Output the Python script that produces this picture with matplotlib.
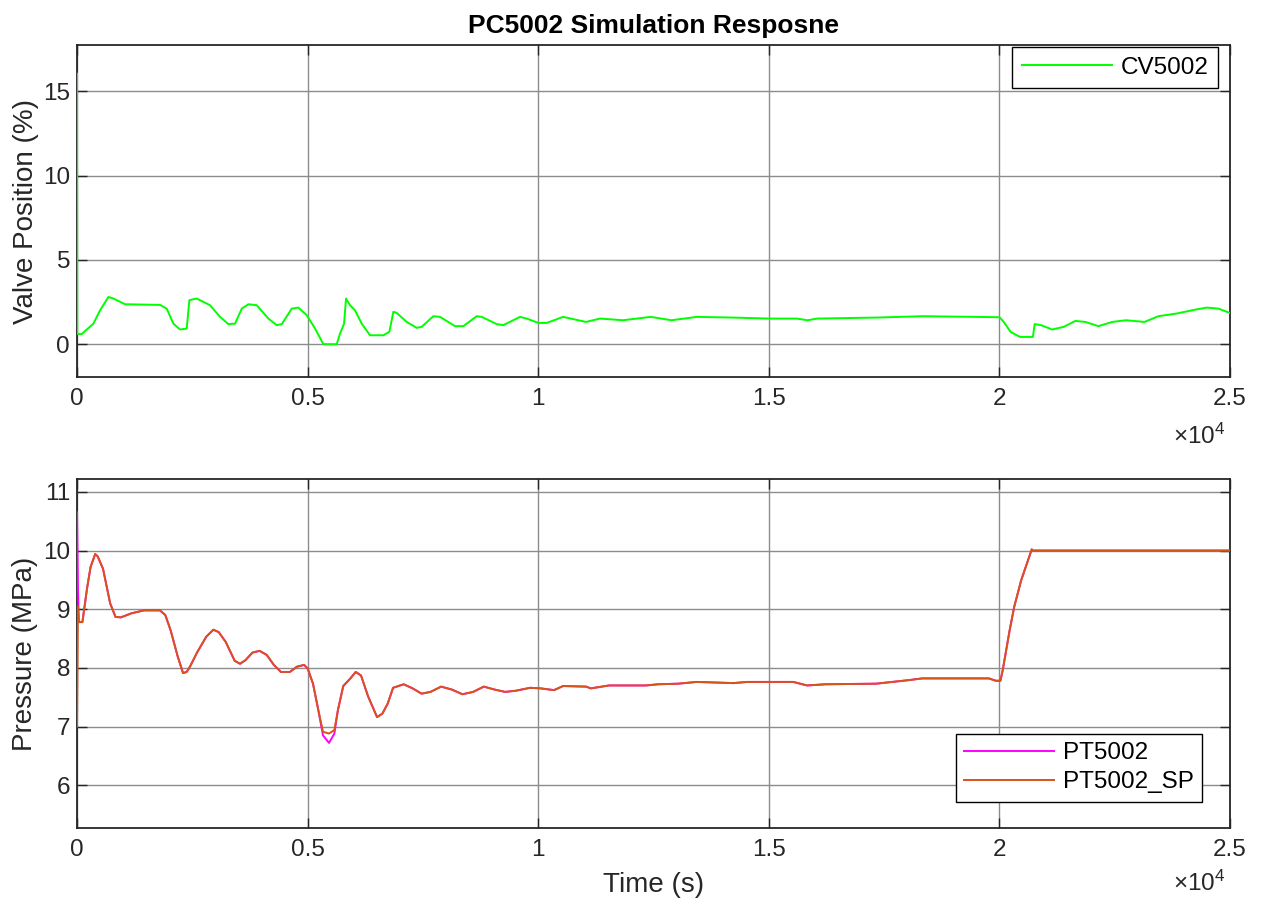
import matplotlib
matplotlib.use("Agg")
import matplotlib.pyplot as plt
from matplotlib.ticker import FuncFormatter

plt.rcParams['font.family'] = ['Liberation Sans', 'DejaVu Sans']
plt.rcParams['mathtext.fontset'] = 'custom'
plt.rcParams['mathtext.rm'] = 'Liberation Sans'

# Valve position CV5002 (time in s, value in %)
cv_time = [0, 5, 100, 354, 499, 680, 788, 1041, 1800, 1944, 2088, 2233, 2378, 2435,
           2595, 2883, 3100, 3281, 3426, 3571, 3715, 3896, 4148, 4330, 4438, 4655,
           4798, 4980, 5160, 5340, 5630, 5702, 5789, 5832, 5919, 6027, 6172, 6352,
           6641, 6771, 6858, 6930, 7147, 7364, 7473, 7725, 7870, 8195, 8375, 8665,
           8774, 9099, 9243, 9604, 9749, 10001, 10183, 10537, 11036, 11340, 11838,
           12440, 12889, 13440, 14200, 15000, 15600, 15840, 16050, 17340, 18340,
           20000, 20092, 20242, 20444, 20724, 20763, 20900, 21143, 21394, 21645,
           21860, 22145, 22445, 22743, 23144, 23445, 23844, 24245, 24494, 24746, 25000]
cv_value = [16.05, 0.6, 0.6, 1.22, 2.01, 2.8, 2.71, 2.37, 2.33, 2.11, 1.22, 0.87, 0.93, 2.61,
            2.71, 2.31, 1.62, 1.19, 1.22, 2.11, 2.37, 2.31, 1.52, 1.13, 1.19, 2.11,
            2.17, 1.72, 0.93, 0.0, 0.0, 0.63, 1.22, 2.71, 2.31, 2.01, 1.22, 0.53,
            0.53, 0.73, 1.92, 1.86, 1.32, 0.97, 1.03, 1.66, 1.62, 1.07, 1.07, 1.66,
            1.62, 1.19, 1.13, 1.62, 1.52, 1.26, 1.26, 1.62, 1.32, 1.52, 1.42,
            1.62, 1.42, 1.62, 1.58, 1.52, 1.52, 1.42, 1.52, 1.58, 1.66,
            1.6, 1.32, 0.73, 0.43, 0.43, 1.19, 1.13, 0.87, 1.03, 1.38,
            1.32, 1.07, 1.32, 1.42, 1.32, 1.66, 1.82, 2.05, 2.17, 2.11, 1.85]

# Pressure PT5002 and set point PT5002_SP (time in s, value in MPa)
p_time = [0, 20, 39, 116, 162, 216, 293, 394, 448, 563, 718, 833, 949, 1180, 1451,
          1798, 1914, 2029, 2184, 2299, 2377, 2454, 2608, 2801, 2955, 3071, 3225,
          3418, 3534, 3650, 3804, 3958, 4113, 4267, 4421, 4614, 4769, 4923, 5000,
          5116, 5231, 5332, 5463, 5579, 5656, 5772, 5926, 6042, 6157, 6312, 6505,
          6620, 6736, 6852, 7083, 7276, 7469, 7662, 7894, 8125, 8356, 8588, 8819,
          9051, 9282, 9514, 9823, 10054, 10340, 10539, 11038, 11138, 11537, 12335,
          12600, 13034, 13433, 14232, 14531, 15529, 15828, 16228, 17325, 18024,
          18323, 19770, 19920, 20020, 20070, 20220, 20319, 20469, 20699, 20719, 25000]
sp_value = [7.0, 9.05, 8.78, 8.78, 9.04, 9.35, 9.72, 9.94, 9.90, 9.69, 9.10, 8.87, 8.86, 8.93, 8.98,
            8.98, 8.90, 8.64, 8.19, 7.91, 7.93, 8.03, 8.27, 8.53, 8.65, 8.61, 8.44,
            8.12, 8.07, 8.13, 8.26, 8.29, 8.22, 8.05, 7.93, 7.93, 8.02, 8.05, 7.99,
            7.73, 7.28, 6.91, 6.88, 6.94, 7.28, 7.69, 7.82, 7.93, 7.87, 7.51, 7.16,
            7.22, 7.39, 7.66, 7.72, 7.65, 7.56, 7.59, 7.68, 7.63, 7.55, 7.59, 7.68,
            7.63, 7.59, 7.61, 7.66, 7.65, 7.62, 7.69, 7.68, 7.65, 7.70, 7.70,
            7.72, 7.73, 7.76, 7.74, 7.76, 7.76, 7.70, 7.72, 7.73, 7.79,
            7.82, 7.82, 7.78, 7.78, 7.96, 8.64, 9.04, 9.49, 10.02, 10.0, 10.0]
pt_value = [10.65, 9.35, 8.78, 8.78, 9.04, 9.35, 9.72, 9.94, 9.90, 9.69, 9.10, 8.87, 8.86, 8.93, 8.98,
            8.98, 8.90, 8.64, 8.19, 7.91, 7.93, 8.03, 8.27, 8.53, 8.65, 8.61, 8.44,
            8.12, 8.07, 8.13, 8.26, 8.29, 8.22, 8.05, 7.93, 7.93, 8.02, 8.05, 7.99,
            7.73, 7.28, 6.85, 6.72, 6.88, 7.28, 7.69, 7.82, 7.93, 7.87, 7.51, 7.16,
            7.22, 7.39, 7.66, 7.72, 7.65, 7.56, 7.59, 7.68, 7.63, 7.55, 7.59, 7.68,
            7.63, 7.59, 7.61, 7.66, 7.65, 7.62, 7.69, 7.68, 7.65, 7.70, 7.70,
            7.72, 7.73, 7.76, 7.74, 7.76, 7.76, 7.70, 7.72, 7.73, 7.79,
            7.82, 7.82, 7.78, 7.78, 7.96, 8.64, 9.04, 9.49, 10.02, 10.0, 10.0]

x_ticks = [0, 5000, 10000, 15000, 20000, 25000]
top_yticks = [0, 5, 10, 15]
bottom_yticks = [6, 7, 8, 9, 10, 11]

text_color = '#262626'
tick_size = 17.5

fig = plt.figure(figsize=(12.61, 8.99), dpi=100)
ax1 = fig.add_axes([0.0611, 0.5806, 0.9144, 0.3693])
ax2 = fig.add_axes([0.0611, 0.0790, 0.9144, 0.3882])


def style_axis(ax, yticks, ylim, offset_y):
    ax.set_xlim(0, 25000)
    ax.set_ylim(*ylim)
    ax.set_xticks(x_ticks)
    ax.set_yticks(yticks)
    ax.xaxis.set_major_formatter(FuncFormatter(lambda v, p: f"{v / 1e4:g}"))
    ax.grid(True, color='#8c8c8c', linewidth=1.0)
    ax.set_axisbelow(True)
    ax.tick_params(direction='in', top=True, right=True, length=7, width=1,
                   color=text_color, labelcolor=text_color, labelsize=tick_size)
    ax.tick_params(axis='x', pad=8)
    ax.tick_params(axis='y', pad=5)
    for s in ax.spines.values():
        s.set_color(text_color)
        s.set_linewidth(1.3)
    # MATLAB style exponent under the right end of the x axis
    ax.text(0.996, offset_y, r'$\times\mathregular{10^{4}}$', transform=ax.transAxes,
            ha='right', va='center', fontsize=tick_size, color=text_color)


# Top panel: valve position
ax1.plot(cv_time, cv_value, color='#00ff00', linewidth=1.4, label='CV5002', zorder=3)
style_axis(ax1, top_yticks, (-1.95, 17.75), -0.178)
ax1.set_ylabel('Valve Position (%)', fontsize=20, color=text_color)
ax1.yaxis.set_label_coords(-0.033, 0.5)
ax1.set_title('PC5002 Simulation Resposne', fontsize=19, fontweight='bold', pad=9)
leg1 = ax1.legend(loc='upper right', bbox_to_anchor=(0.9896, 0.994), borderaxespad=0,
                  fontsize=tick_size, fancybox=False, framealpha=1, edgecolor='black',
                  handlelength=3.7, handletextpad=0.35, borderpad=0.4)
leg1.get_frame().set_linewidth(1.0)

# Bottom panel: pressure
ax2.plot(p_time, pt_value, color='#ff00ff', linewidth=1.4, label='PT5002', zorder=3)
ax2.plot(p_time, sp_value, color='#d95319', linewidth=1.4, label='PT5002_SP', zorder=3)
style_axis(ax2, bottom_yticks, (5.27, 11.22), -0.158)
ax2.set_ylabel('Pressure (MPa)', fontsize=20, color=text_color)
ax2.yaxis.set_label_coords(-0.034, 0.5)
ax2.set_xlabel('Time (s)', fontsize=20, color=text_color, labelpad=8)
leg2 = ax2.legend(loc='lower right', bbox_to_anchor=(0.9757, 0.0745), borderaxespad=0,
                  fontsize=tick_size, fancybox=False, framealpha=1, edgecolor='black',
                  handlelength=3.7, handletextpad=0.35, borderpad=0.35, labelspacing=0.3)
leg2.get_frame().set_linewidth(1.0)

fig.savefig('out.png', dpi=100)
